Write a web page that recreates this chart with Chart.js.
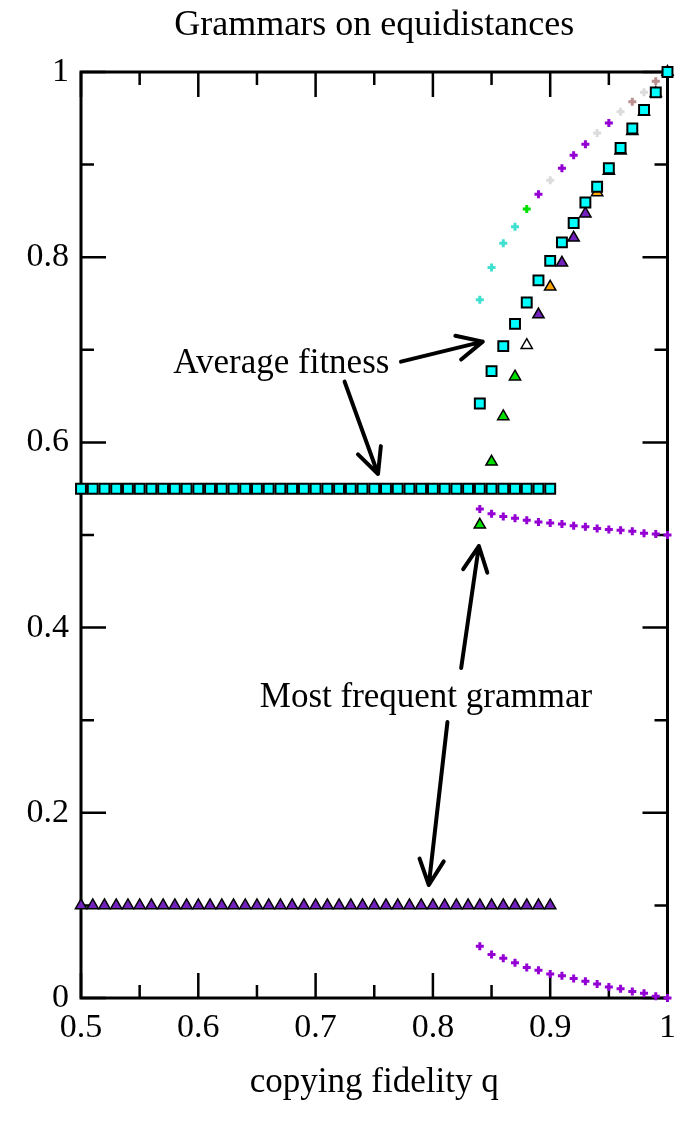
<!DOCTYPE html>
<html>
<head>
<meta charset="utf-8">
<script src="https://cdn.jsdelivr.net/npm/chart.js@4/dist/chart.umd.min.js"></script>
<style>
html,body{margin:0;padding:0;background:#fff;}
#wrap{width:686px;height:1126px;}
</style>
</head>
<body>
<div id="wrap"><canvas id="c" width="686" height="1126"></canvas></div>
<script>
// ---------------- DATA ----------------
const qLow = [0.50,0.51,0.52,0.53,0.54,0.55,0.56,0.57,0.58,0.59,0.60,0.61,0.62,0.63,0.64,0.65,0.66,0.67,0.68,0.69,0.70,0.71,0.72,0.73,0.74,0.75,0.76,0.77,0.78,0.79,0.80,0.81,0.82,0.83,0.84,0.85,0.86,0.87,0.88,0.89,0.90];
const avgFitnessLow = [0.55,0.55,0.55,0.55,0.55,0.55,0.55,0.55,0.55,0.55,0.55,0.55,0.55,0.55,0.55,0.55,0.55,0.55,0.55,0.55,0.55,0.55,0.55,0.55,0.55,0.55,0.55,0.55,0.55,0.55,0.55,0.55,0.55,0.55,0.55,0.55,0.55,0.55,0.55,0.55,0.55];
const topGrammarLow = [0.10,0.10,0.10,0.10,0.10,0.10,0.10,0.10,0.10,0.10,0.10,0.10,0.10,0.10,0.10,0.10,0.10,0.10,0.10,0.10,0.10,0.10,0.10,0.10,0.10,0.10,0.10,0.10,0.10,0.10,0.10,0.10,0.10,0.10,0.10,0.10,0.10,0.10,0.10,0.10,0.10];

const qHigh = [0.84,0.85,0.86,0.87,0.88,0.89,0.90,0.91,0.92,0.93,0.94,0.95,0.96,0.97,0.98,0.99,1.00];
const avgFitnessHigh = [0.642,0.677,0.704,0.728,0.751,0.775,0.796,0.816,0.837,0.859,0.876,0.896,0.918,0.939,0.959,0.978,1.000];
const topGrammarHigh = [0.511,0.579,0.628,0.671,0.705,0.738,0.768,0.794,0.821,0.847,0.870,0.893,0.915,0.936,0.957,0.977,1.000];
const otherGrammarUpper = [0.754,0.789,0.815,0.833,0.852,0.868,0.883,0.896,0.910,0.922,0.934,0.945,0.957,0.968,0.978,0.990,1.000];
const otherGrammarMiddle = [0.528,0.523,0.520,0.518,0.516,0.514,0.513,0.512,0.510,0.509,0.507,0.506,0.505,0.504,0.502,0.501,0.500];
const otherGrammarLower = [0.056,0.047,0.043,0.038,0.033,0.030,0.026,0.024,0.021,0.018,0.015,0.012,0.010,0.007,0.005,0.002,0.000];

const titleText = 'Grammars on equidistances';
const xTitleText = 'copying fidelity q';
const labelAvg = 'Average fitness';
const labelTop = 'Most frequent grammar';

// ---------------- STYLES ----------------
const CYAN = '#00FFFF', VIOLET = '#9400D3', INDIGO = '#7221BC', TURQ = '#40E0D0',
      GREEN = '#00E000', LGREY = '#DCDCDC', BROWN = '#BC8F8F', ORANGE = '#FFA500', WHITE = '#FFFFFF';
const topHighColors = [GREEN,GREEN,GREEN,GREEN,WHITE,INDIGO,ORANGE,INDIGO,INDIGO,INDIGO,ORANGE,INDIGO,INDIGO,INDIGO,INDIGO,INDIGO,INDIGO];
const upperCrossColors = [TURQ,TURQ,TURQ,TURQ,GREEN,VIOLET,LGREY,VIOLET,VIOLET,VIOLET,LGREY,VIOLET,LGREY,BROWN,LGREY,BROWN,BROWN];

// annotation placement (data coordinates)
const annotations = {
  texts: [
    {text: labelAvg, q: 0.5787, v: 0.675},
    {text: labelTop, q: 0.6524, v: 0.3143}
  ],
  arrows: [
    {q0: 0.7728, v0: 0.6872, q1: 0.8425, v1: 0.7088},
    {q0: 0.7247, v0: 0.6656, q1: 0.7532, v1: 0.5659},
    {q0: 0.8241, v0: 0.3564, q1: 0.8392, v1: 0.4881},
    {q0: 0.8124, v0: 0.2981, q1: 0.7965, v1: 0.1220}
  ]
};

const FONT = 'Liberation Serif';
const pts = (xs, ys) => xs.map((x, i) => ({x: x, y: ys[i]}));

const frameTicks = {
  id: 'frameTicks',
  beforeDatasetsDraw(chart) {
    const {ctx, chartArea: a, scales: {x, y}} = chart;
    ctx.save();
    ctx.strokeStyle = '#000';
    ctx.lineWidth = 2.5;
    ctx.beginPath();
    x.ticks.forEach(t => {
      const px = x.getPixelForValue(t.value);
      const L = Math.round(t.value * 100) % 10 === 0 ? 25 : 13;
      ctx.moveTo(px, a.bottom); ctx.lineTo(px, a.bottom - L);
      ctx.moveTo(px, a.top); ctx.lineTo(px, a.top + L);
    });
    y.ticks.forEach(t => {
      const py = y.getPixelForValue(t.value);
      const L = Math.round(t.value * 10) % 2 === 0 ? 25 : 13;
      ctx.moveTo(a.left, py); ctx.lineTo(a.left + L, py);
      ctx.moveTo(a.right, py); ctx.lineTo(a.right - L, py);
    });
    ctx.stroke();
    ctx.lineWidth = 3;
    ctx.strokeRect(a.left, a.top, a.right - a.left, a.bottom - a.top);
    ctx.restore();
  },
  afterDatasetsDraw(chart) {
    const {ctx, scales: {x, y}} = chart;
    ctx.save();
    ctx.fillStyle = '#000';
    ctx.font = '35px "' + FONT + '"';
    ctx.textBaseline = 'alphabetic';
    ctx.textAlign = 'left';
    annotations.texts.forEach(t => ctx.fillText(t.text, x.getPixelForValue(t.q), y.getPixelForValue(t.v)));
    ctx.strokeStyle = '#000';
    ctx.lineWidth = 4;
    ctx.lineCap = 'round';
    ctx.lineJoin = 'round';
    annotations.arrows.forEach(r => {
      const x0 = x.getPixelForValue(r.q0), y0 = y.getPixelForValue(r.v0);
      const x1 = x.getPixelForValue(r.q1), y1 = y.getPixelForValue(r.v1);
      const ang = Math.atan2(y1 - y0, x1 - x0), L = 28, h = 0.45;
      ctx.beginPath();
      ctx.moveTo(x0, y0); ctx.lineTo(x1, y1);
      ctx.moveTo(x1 - L * Math.cos(ang - h), y1 - L * Math.sin(ang - h));
      ctx.lineTo(x1, y1);
      ctx.lineTo(x1 - L * Math.cos(ang + h), y1 - L * Math.sin(ang + h));
      ctx.stroke();
    });
    ctx.restore();
  }
};

const squareDS = (data) => ({data, pointStyle: 'rect', pointRadius: 7, pointBackgroundColor: CYAN, pointBorderColor: '#000', pointBorderWidth: 2, showLine: false, clip: false});
const triDS = (data, colors) => ({data, pointStyle: 'triangle', pointRadius: 6.5, pointBackgroundColor: colors, pointBorderColor: '#000', pointBorderWidth: 1.5, showLine: false, clip: false});
const crossDS = (data, colors) => ({data, pointStyle: 'cross', pointRadius: 4, pointBorderColor: colors, pointBorderWidth: 3, showLine: false, clip: false});

new Chart(document.getElementById('c'), {
  type: 'scatter',
  data: {
    datasets: [
      squareDS(pts(qLow, avgFitnessLow)),
      squareDS(pts(qHigh, avgFitnessHigh)),
      triDS(pts(qLow, topGrammarLow), INDIGO),
      triDS(pts(qHigh, topGrammarHigh), topHighColors),
      crossDS(pts(qHigh, otherGrammarUpper), upperCrossColors),
      crossDS(pts(qHigh, otherGrammarMiddle), VIOLET),
      crossDS(pts(qHigh, otherGrammarLower), VIOLET)
    ]
  },
  options: {
    responsive: false,
    animation: false,
    events: [],
    layout: {padding: {left: 0, right: 8, top: 0, bottom: 0}},
    plugins: {
      legend: {display: false},
      tooltip: {enabled: false},
      title: {display: false}
    },
    scales: {
      x: {
        type: 'linear', min: 0.5, max: 1,
        afterFit: s => { s.height = 128; },
        grid: {display: false, drawTicks: false},
        border: {display: false},
        ticks: {stepSize: 0.05, autoSkip: false, maxRotation: 0, padding: 10, color: '#000',
          font: {family: FONT, size: 34},
          callback: v => Math.round(v * 100) % 10 === 0 ? String(+(+v).toFixed(1)) : ''},
        title: {display: true, text: xTitleText, color: '#000', font: {family: FONT, size: 35}, padding: {top: 0, bottom: 22}}
      },
      xTop: {
        type: 'linear', position: 'top', min: 0.5, max: 1,
        afterFit: s => { s.height = 72; },
        grid: {display: false, drawTicks: false},
        border: {display: false},
        ticks: {display: false},
        title: {display: true, text: titleText, color: '#000', font: {family: FONT, size: 36}, padding: {top: 4, bottom: 0}}
      },
      y: {
        type: 'linear', min: 0, max: 1,
        afterFit: s => { s.width = 81; },
        grid: {display: false, drawTicks: false},
        border: {display: false},
        ticks: {stepSize: 0.1, autoSkip: false, padding: 12, color: '#000',
          font: {family: FONT, size: 34},
          callback: v => Math.round(v * 10) % 2 === 0 ? String(+(+v).toFixed(1)) : ''}
      }
    }
  },
  plugins: [frameTicks]
});
</script>
</body>
</html>
